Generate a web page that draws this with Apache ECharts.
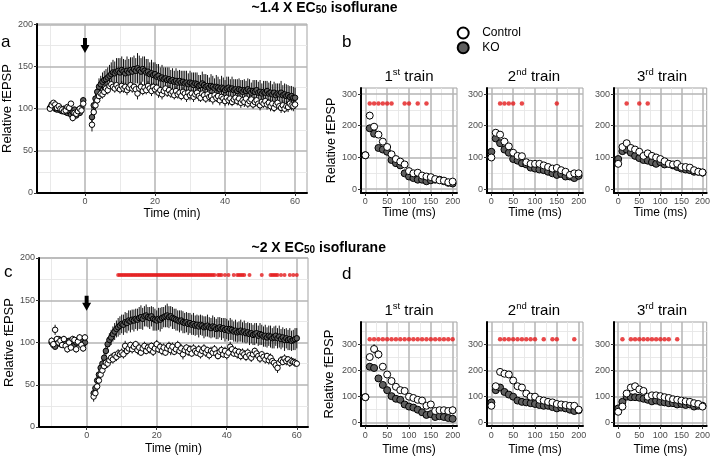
<!DOCTYPE html>
<html><head><meta charset="utf-8">
<script src="https://cdn.jsdelivr.net/npm/echarts@6/dist/echarts.min.js"></script>
<style>html,body{margin:0;padding:0;background:#fff}#c{width:713px;height:457px}</style>
</head><body><div id="c"></div>
<script>
// ---------------- DATA ----------------
const timeMin = [-10,-9.5,-9,-8.5,-8,-7.5,-7,-6.5,-6,-5.5,-5,-4.5,-4,-3.5,-3,-2.5,-2,-1.5,-1,-0.5,
2,2.5,3,3.5,4,4.5,5,5.5,6,6.5,
7,7.5,8,8.5,9,9.5,10,10.5,11,11.5,
12,12.5,13,13.5,14,14.5,15,15.5,16,16.5,
17,17.5,18,18.5,19,19.5,20,20.5,21,21.5,
22,22.5,23,23.5,24,24.5,25,25.5,26,26.5,
27,27.5,28,28.5,29,29.5,30,30.5,31,31.5,
32,32.5,33,33.5,34,34.5,35,35.5,36,36.5,
37,37.5,38,38.5,39,39.5,40,40.5,41,41.5,
42,42.5,43,43.5,44,44.5,45,45.5,46,46.5,
47,47.5,48,48.5,49,49.5,50,50.5,51,51.5,
52,52.5,53,53.5,54,54.5,55,55.5,56,56.5,
57,57.5,58,58.5,59,59.5,60];

// panel a (~1.4 x EC50)
const aCtrl = [100,104,107,105,101,103,100,99,97,98,102,101,106,89,95,94,97,100,98,106,
81,96,104,110,115,118,117,120,124,122,
127,129,126,124,128,125,123,127,124,126,
122,125,128,124,126,123,118,124,126,121,
125,122,127,124,121,126,123,125,119,122,
117,121,124,119,122,118,120,116,121,117,
119,115,120,118,114,119,116,118,114,117,
119,115,113,118,116,112,117,114,115,111,
116,113,115,110,114,112,109,113,110,112,
108,111,113,109,112,107,110,108,112,106,
109,111,105,108,110,106,104,108,106,109,
105,107,103,106,101,105,107,103,101,104,
100,103,102,106,104,103,105];
const aCtrlSe = [3,3,2,3,2,3,3,2,3,3,3,2,3,4,3,3,3,3,3,4,
8,7,6,6,5,5,5,5,6,5,
5,6,5,5,6,5,5,6,5,5,
6,5,6,5,5,6,7,5,6,5,
6,5,6,5,6,5,6,5,6,5,
6,5,6,5,6,5,6,5,6,5,
6,5,6,5,6,5,6,5,6,5,
6,6,5,6,6,5,6,6,5,6,
6,5,6,6,5,6,6,5,6,6,
5,6,6,5,6,6,5,6,6,5,
6,6,5,6,6,5,6,6,5,6,
6,5,6,6,5,6,6,5,6,6,
5,6,6,5,6,6,5];
const aKO = [101,105,103,100,99,102,98,97,100,96,95,97,93,96,99,92,97,95,101,110,
90,104,112,120,126,129,132,134,135,137,
139,141,143,142,144,145,143,146,144,142,
145,143,146,144,147,145,148,146,144,147,
145,143,144,141,142,140,141,138,139,136,
137,135,136,134,135,133,134,132,133,131,
133,131,132,130,131,129,131,130,128,130,
129,127,128,130,128,126,127,125,127,126,
124,126,125,123,125,124,122,124,125,123,
124,122,123,121,123,122,120,122,121,123,
121,119,121,120,122,119,120,118,120,119,
121,118,119,117,119,116,118,117,119,116,
117,115,116,114,115,113,113];
const aKOSe = [3,3,3,2,3,3,3,2,3,3,3,3,3,3,3,3,3,3,3,4,
12,10,9,9,10,10,11,11,12,12,
13,14,15,14,16,15,17,16,15,16,
17,16,15,17,16,15,18,17,16,15,
17,16,15,14,16,15,14,15,14,13,
15,14,13,15,14,13,14,13,15,14,
13,14,13,15,14,13,14,13,15,13,
14,13,12,14,13,15,13,12,14,13,
12,14,13,12,14,13,12,14,13,12,
14,13,12,14,13,12,14,13,12,13,
14,12,13,14,12,13,14,12,13,14,
12,13,14,12,13,14,12,13,14,12,
13,14,12,13,12,13,12];

// panel c (~2 x EC50)
const cCtrl = [102,98,115,104,100,102,97,104,96,92,100,94,104,103,92,101,106,97,93,106,
36,40,48,55,62,67,72,76,75,79,
82,80,85,83,87,86,88,86,96,90,
93,97,92,95,98,91,94,88,93,96,
90,94,92,96,89,93,98,92,95,90,
94,88,93,96,91,95,89,92,97,90,
93,86,91,94,89,92,87,93,90,88,
92,86,90,93,88,91,85,90,88,92,
87,84,89,91,86,90,85,88,95,92,
87,90,86,89,84,88,86,83,88,85,
82,86,90,87,84,81,86,83,80,84,
79,82,78,76,73,70,76,79,77,81,
78,80,76,78,77,76,75];
const cCtrlSe = [4,3,6,4,3,4,3,4,4,4,4,3,4,4,4,3,4,4,4,4,
6,6,5,5,5,5,4,5,5,4,
5,5,4,5,5,4,5,5,6,5,
5,4,5,5,4,5,5,4,5,5,
4,5,5,4,5,6,5,4,5,5,
5,4,5,5,6,5,4,5,5,4,
5,6,5,4,5,5,4,5,5,4,
5,5,4,5,5,4,5,5,4,5,
5,4,5,5,4,5,5,4,6,5,
4,5,5,4,5,5,4,5,5,4,
5,5,4,5,6,5,4,5,5,4,
5,5,4,5,6,6,5,5,4,5,
5,4,5,5,4,5,4];
const cKO = [100,97,95,101,104,98,103,99,100,96,102,98,101,97,100,103,99,101,98,100,
40,46,55,62,70,75,82,90,98,103,
106,110,113,116,118,120,122,121,124,123,
126,125,127,126,128,127,129,130,128,131,
132,130,129,131,128,127,126,128,127,129,
130,131,132,130,131,129,128,127,126,125,
126,124,123,124,122,123,121,122,120,121,
119,121,120,118,119,120,118,117,119,118,
116,117,118,116,117,115,116,114,116,115,
113,114,112,113,114,112,113,111,112,110,
111,109,110,111,108,110,109,107,108,106,
108,107,105,106,108,105,107,104,106,103,
105,103,104,102,103,104,105];
const cKOSe = [3,3,3,3,3,3,3,3,3,3,3,3,3,3,3,3,3,3,3,3,
5,5,5,6,6,6,7,7,8,8,
9,9,10,10,11,11,11,12,12,12,
12,13,12,13,12,13,13,14,13,12,
13,12,13,12,14,13,12,13,14,13,
12,13,14,13,12,13,12,13,12,13,
12,13,12,12,13,12,12,13,12,12,
13,12,12,13,12,13,12,12,13,12,
12,13,12,13,12,14,12,12,13,12,
12,13,12,12,13,12,13,12,12,13,
12,12,13,12,12,13,12,12,13,12,
12,13,12,13,12,12,13,12,12,13,
12,12,13,12,12,13,12];
const cSigTimes = [9,9.5,10,10.5,11,11.5,12,12.5,13,13.5,14,14.5,15,15.5,16,16.5,17,17.5,18,18.5,19,19.5,20,20.5,21,21.5,22,22.5,23,23.5,24,24.5,25,25.5,26,26.5,27,27.5,28,28.5,29,29.5,30,30.5,31,31.5,32,32.5,33,33.5,34,34.5,35,35.5,36,36.5,37.5,38,38.5,39.5,40.5,42,43,43.5,44,44.5,45,46.5,50,52.5,53,53.5,54,54.5,55.5,56.5,58,59,60];
const cSigLevel = 180;

// panels b and d (trains)
const timeMs = [0,10,20,30,40,50,60,70,80,90,100,110,120,130,140,150,160,170,180,190,200];
const b1Ctrl = [107,232,197,172,150,133,110,95,87,78,57,50,52,43,40,38,32,28,27,22,24];
const b1CtrlSe = [5,12,8,6,6,7,5,5,4,4,4,4,6,4,4,4,3,3,3,4,6];
const b1KO = [107,192,175,130,125,118,92,82,75,50,40,35,30,30,25,28,30,30,25,20,18];
const b1KOSe = [4,10,9,5,5,5,5,4,4,4,4,4,4,4,3,3,3,3,3,3,3];
const b1Sig = [10,20,30,40,50,60,90,100,120,140];
const b2Ctrl = [100,178,172,150,135,115,105,104,85,80,80,80,75,70,65,67,60,55,45,50,50];
const b2CtrlSe = [8,10,9,8,7,6,5,5,4,4,4,4,4,4,4,4,4,4,4,4,4];
const b2KO = [118,160,145,125,115,95,90,82,78,68,65,62,60,55,50,45,48,40,40,35,42];
const b2KOSe = [9,9,8,7,6,5,5,4,4,4,4,4,4,4,4,4,4,4,4,4,4];
const b2Sig = [20,30,40,50,70,150];
const b3Ctrl = [80,133,145,130,125,118,105,113,105,100,95,88,80,78,80,70,70,68,60,55,53];
const b3CtrlSe = [6,12,9,7,6,6,5,6,5,5,4,4,4,4,5,4,4,4,4,4,4];
const b3KO = [95,120,125,115,105,98,92,90,85,80,85,78,80,75,70,65,62,60,55,55,52];
const b3KOSe = [8,10,8,6,5,5,4,4,4,4,4,4,4,4,4,4,4,4,4,4,4];
const b3Sig = [20,50,70];
const bSigLevel = 270;

const d1Ctrl = [98,252,283,262,215,185,160,138,125,122,100,95,88,85,65,70,45,48,48,45,48];
const d1CtrlSe = [5,12,18,16,12,9,7,8,8,7,8,8,12,10,10,10,10,10,12,12,14];
const d1KO = [98,215,210,170,145,125,102,92,88,70,62,58,50,40,30,33,22,25,22,18,15];
const d1KOSe = [4,12,10,8,6,5,4,4,4,4,4,4,4,4,3,3,3,3,3,3,3];
const d1Sig = [10,20,30,40,50,60,70,80,90,100,110,120,130,140,150,160,170,180,190,200];
const d2Ctrl = [65,140,195,188,185,162,140,135,112,100,100,88,85,80,78,72,70,68,65,65,50];
const d2CtrlSe = [8,8,12,12,12,8,6,6,6,6,6,6,5,5,5,5,5,5,5,5,5];
const d2KO = [78,125,135,118,108,100,85,80,78,75,72,68,65,65,60,55,58,55,50,45,48];
const d2KOSe = [8,6,6,5,5,4,4,4,4,4,4,4,4,4,4,4,4,4,4,4,4];
const d2Sig = [20,30,40,50,60,70,80,90,100,120,140,150,190];
const d3Ctrl = [42,62,112,135,140,128,122,100,105,105,102,98,95,90,88,85,82,80,75,72,62];
const d3CtrlSe = [8,6,6,6,5,5,5,5,5,5,5,5,5,5,5,5,5,5,5,5,5];
const d3KO = [55,80,100,98,98,96,92,88,82,85,80,78,75,75,70,72,68,70,62,65,65];
const d3KOSe = [8,6,5,5,4,4,4,4,4,4,4,4,4,4,4,4,4,4,4,4,4];
const d3Sig = [10,30,40,50,60,70,80,90,100,110,120,140];
const dSigLevel = 320;

// arrows (drug application at t = 0)
const arrowA = [0, 175];
const arrowC = [0, 146.5];

// tick labels
const ticksMinX = [0,20,40,60];
const ticksMinY = [0,50,100,150,200];
const ticksMsX = [0,50,100,150,200];
const ticksMsY = [0,100,200,300];

// ---------------- LAYOUT / STYLE ----------------
const FONT = '"Liberation Sans", Arial, Helvetica, sans-serif';
const RED = '#e41a1c';
const KOFILL = '#5f5f5f';

const panels = [
  {left:37, top:24, width:270, height:169, x:[-13.7,63.4], y:[0,200.5], time:timeMin, ctrl:aCtrl, ctrlSe:aCtrlSe, ko:aKO, koSe:aKOSe, sig:null,
   xT:ticksMinX, yT:ticksMinY, xMajor:[0,20,40,60], xMinor:[-10,10,30,50], yMajor:[0,50,100,150,200], yMinor:[25,75,125,175],
   xName:'Time (min)', xGap:15, xMargin:4.5, yName:'Relative fEPSP', yGap:20.5, yNameSize:13, sym:5.5, sigSize:4, ebw:1, arrow:arrowA},
  {left:361, top:88, width:96, height:105, x:[-10,210], y:[-12,319], time:timeMs, ctrl:b1Ctrl, ctrlSe:b1CtrlSe, ko:b1KO, koSe:b1KOSe, sig:b1Sig, sigLevel:bSigLevel,
   xT:ticksMsX, yT:ticksMsY, xMajor:[0,50,100,150,200], xMinor:[25,75,125,175], yMajor:[0,100,200,300], yMinor:[50,150,250],
   xName:'Time (ms)', xGap:13.5, xMargin:4, yName:'Relative fEPSP', yGap:22, yNameSize:12.5, sym:7, sigSize:4.5, ebw:1},
  {left:487, top:88, width:96, height:105, x:[-10,210], y:[-12,319], time:timeMs, ctrl:b2Ctrl, ctrlSe:b2CtrlSe, ko:b2KO, koSe:b2KOSe, sig:b2Sig, sigLevel:bSigLevel,
   xT:ticksMsX, yT:ticksMsY, xMajor:[0,50,100,150,200], xMinor:[25,75,125,175], yMajor:[0,100,200,300], yMinor:[50,150,250],
   xName:'Time (ms)', xGap:13.5, xMargin:4, yName:'', sym:7, sigSize:4.5, ebw:1},
  {left:614, top:88, width:95, height:105, x:[-10,210], y:[-12,319], time:timeMs, ctrl:b3Ctrl, ctrlSe:b3CtrlSe, ko:b3KO, koSe:b3KOSe, sig:b3Sig, sigLevel:bSigLevel,
   xT:ticksMsX, yT:ticksMsY, xMajor:[0,50,100,150,200], xMinor:[25,75,125,175], yMajor:[0,100,200,300], yMinor:[50,150,250],
   xName:'Time (ms)', xGap:13.5, xMargin:4, yName:'', sym:7, sigSize:4.5, ebw:1},
  {left:39, top:258, width:269, height:169, x:[-13.6,63.2], y:[0,200], time:timeMin, ctrl:cCtrl, ctrlSe:cCtrlSe, ko:cKO, koSe:cKOSe, sig:cSigTimes, sigLevel:cSigLevel,
   xT:ticksMinX, yT:ticksMinY, xMajor:[0,20,40,60], xMinor:[-10,10,30,50], yMajor:[0,50,100,150,200], yMinor:[25,75,125,175],
   xName:'Time (min)', xGap:16, xMargin:4.5, yName:'Relative fEPSP', yGap:23.5, yNameSize:13, sym:5.5, sigSize:4, ebw:1, arrow:arrowC},
  {left:361, top:322, width:96, height:104, x:[-10,210], y:[-12.6,386.5], time:timeMs, ctrl:d1Ctrl, ctrlSe:d1CtrlSe, ko:d1KO, koSe:d1KOSe, sig:d1Sig, sigLevel:dSigLevel,
   xT:ticksMsX, yT:ticksMsY, xMajor:[0,50,100,150,200], xMinor:[25,75,125,175], yMajor:[0,100,200,300], yMinor:[50,150,250,350],
   xName:'Time (ms)', xGap:17.5, xMargin:5.5, yName:'Relative fEPSP', yGap:25, yNameSize:13, sym:7, sigSize:4.5, ebw:1},
  {left:487, top:322, width:96, height:104, x:[-10,210], y:[-12.6,386.5], time:timeMs, ctrl:d2Ctrl, ctrlSe:d2CtrlSe, ko:d2KO, koSe:d2KOSe, sig:d2Sig, sigLevel:dSigLevel,
   xT:ticksMsX, yT:ticksMsY, xMajor:[0,50,100,150,200], xMinor:[25,75,125,175], yMajor:[0,100,200,300], yMinor:[50,150,250,350],
   xName:'Time (ms)', xGap:17.5, xMargin:5.5, yName:'', sym:7, sigSize:4.5, ebw:1},
  {left:614, top:322, width:95, height:104, x:[-10,210], y:[-12.6,386.5], time:timeMs, ctrl:d3Ctrl, ctrlSe:d3CtrlSe, ko:d3KO, koSe:d3KOSe, sig:d3Sig, sigLevel:dSigLevel,
   xT:ticksMsX, yT:ticksMsY, xMajor:[0,50,100,150,200], xMinor:[25,75,125,175], yMajor:[0,100,200,300], yMinor:[50,150,250,350],
   xName:'Time (ms)', xGap:17.5, xMargin:5.5, yName:'', sym:7, sigSize:4.5, ebw:1}
];

const grids = [], xAxes = [], yAxes = [], series = [];
const arrowPath = 'path://M2.8,0 H7.2 V7 H10 L5,15 L0,7 H2.8 Z';

panels.forEach((P, g) => {
  grids.push({left:P.left, top:P.top, width:P.width, height:P.height, show:true, borderColor:'#a3a3a3', borderWidth:1, backgroundColor:'#fff', containLabel:false});
  const axisCommon = {
    type:'value', gridIndex:g, z:6,
    axisLine:{show:true, onZero:false, lineStyle:{color:'#000', width:2}},
    splitLine:{show:false}, minorSplitLine:{show:false},
    nameLocation:'middle'
  };
  xAxes.push(Object.assign({}, axisCommon, {
    min:P.x[0], max:P.x[1],
    axisTick:{show:true, length:3, customValues:P.xT, lineStyle:{color:'#333', width:1}},
    axisLabel:{customValues:P.xT, fontSize:9, color:'#4d4d4d', margin:P.xMargin, fontFamily:FONT},
    name:P.xName, nameGap:P.xGap, nameTextStyle:{fontSize:12, color:'#000', fontFamily:FONT}
  }));
  yAxes.push(Object.assign({}, axisCommon, {
    min:P.y[0], max:P.y[1],
    axisTick:{show:true, length:3, customValues:P.yT, lineStyle:{color:'#333', width:1}},
    axisLabel:{customValues:P.yT, fontSize:9, color:'#4d4d4d', margin:4, fontFamily:FONT},
    name:P.yName, nameGap:P.yGap || 20, nameRotate:90,
    nameTextStyle:{fontSize:P.yNameSize || 12, color:'#000', fontFamily:FONT}
  }));

  // grid lines (ggplot-like)
  const ml = [];
  const minorStyle = {color:'#e6e6e6', width:0.9, type:'solid'};
  const majorStyle = {color:'#b4b4b4', width:1.5, type:'solid'};
  P.xMinor.forEach(v => ml.push({xAxis:v, lineStyle:minorStyle}));
  P.yMinor.forEach(v => ml.push({yAxis:v, lineStyle:minorStyle}));
  P.xMajor.forEach(v => ml.push({xAxis:v, lineStyle:majorStyle}));
  P.yMajor.forEach(v => ml.push({yAxis:v, lineStyle:majorStyle}));
  const gridSeries = {type:'line', xAxisIndex:g, yAxisIndex:g, data:[], silent:true, z:1,
    markLine:{silent:true, z:1, symbol:['none','none'], label:{show:false}, emphasis:{disabled:true}, animation:false, data:ml}};
  if (P.arrow) {
    gridSeries.markPoint = {silent:true, z:7, symbol:arrowPath, symbolSize:[9,15], symbolKeepAspect:false,
      itemStyle:{color:'#000'}, label:{show:false}, animation:false, data:[{coord:P.arrow}]};
  }
  series.push(gridSeries);

  // error bars
  [[P.ctrl, P.ctrlSe], [P.ko, P.koSe]].forEach(([m, s]) => {
    series.push({type:'custom', xAxisIndex:g, yAxisIndex:g, silent:true, z:3,
      data:P.time.map((t, i) => [t, m[i] - s[i], m[i] + s[i]]),
      encode:{x:0, y:[1,2]},
      renderItem:(params, api) => {
        const p1 = api.coord([api.value(0), api.value(1)]);
        const p2 = api.coord([api.value(0), api.value(2)]);
        return {type:'line', shape:{x1:p1[0], y1:p1[1], x2:p2[0], y2:p2[1]}, style:{stroke:'#111', lineWidth:P.ebw}};
      }});
  });
  // points: KO first, Control on top
  series.push({type:'scatter', name:'KO', xAxisIndex:g, yAxisIndex:g, silent:true, z:4, symbol:'circle', symbolSize:P.sym,
    itemStyle:{color:KOFILL, borderColor:'#000', borderWidth:1, opacity:1},
    data:P.time.map((t, i) => [t, P.ko[i]])});
  series.push({type:'scatter', name:'Control', xAxisIndex:g, yAxisIndex:g, silent:true, z:5, symbol:'circle', symbolSize:P.sym,
    itemStyle:{color:'#fff', borderColor:'#000', borderWidth:1, opacity:1},
    data:P.time.map((t, i) => [t, P.ctrl[i]])});
  if (P.sig) {
    series.push({type:'scatter', name:'sig', xAxisIndex:g, yAxisIndex:g, silent:true, z:5, symbol:'circle', symbolSize:P.sigSize,
      itemStyle:{color:RED, borderWidth:0},
      data:P.sig.map(t => [t, P.sigLevel])});
  }
});

// titles
const mainRich = {
  b:{fontSize:14, fontWeight:'bold', fontFamily:FONT, color:'#000', lineHeight:14},
  s:{fontSize:10, fontWeight:'bold', fontFamily:FONT, color:'#000', lineHeight:8, verticalAlign:'bottom'}
};
const trainRich = {
  n:{fontSize:15, fontWeight:'normal', fontFamily:FONT, color:'#000', lineHeight:18},
  s:{fontSize:9.5, fontWeight:'normal', fontFamily:FONT, color:'#000', lineHeight:9, verticalAlign:'top'}
};
const letterStyle = {fontSize:17, fontWeight:'normal', fontFamily:FONT, color:'#000', lineHeight:20};
const titles = [
  {text:'{b|~1.4 X EC}{s|50}{b| isoflurane}', left:251.5, top:1, padding:0, textStyle:{fontWeight:'bold', rich:mainRich}},
  {text:'{b|~2 X EC}{s|50}{b| isoflurane}', left:251.5, top:241, padding:0, textStyle:{fontWeight:'bold', rich:mainRich}},
  {text:'a', left:1, top:32, padding:0, textStyle:letterStyle},
  {text:'b', left:342, top:32.5, padding:0, textStyle:letterStyle},
  {text:'c', left:4, top:262.5, padding:0, textStyle:letterStyle},
  {text:'d', left:342, top:264, padding:0, textStyle:letterStyle}
];
const trainLabels = ['{n|1}{s|st}{n| train}', '{n|2}{s|nd}{n| train}', '{n|3}{s|rd}{n| train}'];
const trainCenters = [409, 534, 662];
trainLabels.forEach((t, i) => {
  titles.push({text:t, left:trainCenters[i], top:67.5, textAlign:'center', padding:0, textStyle:{fontWeight:'normal', rich:trainRich}});
  titles.push({text:t, left:trainCenters[i], top:301.5, textAlign:'center', padding:0, textStyle:{fontWeight:'normal', rich:trainRich}});
});

const option = {
  animation:false,
  backgroundColor:'#fff',
  title:titles,
  legend:{
    data:[
      {name:'Control', itemStyle:{color:'#fff', borderColor:'#000', borderWidth:2}},
      {name:'KO', itemStyle:{color:KOFILL, borderColor:'#000', borderWidth:2}}
    ],
    orient:'vertical', left:456.7, top:26.5, padding:0, itemWidth:28, itemHeight:11, itemGap:1.7,
    icon:'circle', selectedMode:false,
    textStyle:{fontSize:12, fontFamily:FONT, color:'#000'}
  },
  grid:grids, xAxis:xAxes, yAxis:yAxes, series:series
};

const chart = echarts.init(document.getElementById('c'), null, {renderer:'canvas'});
chart.setOption(option);
</script>
</body></html>
